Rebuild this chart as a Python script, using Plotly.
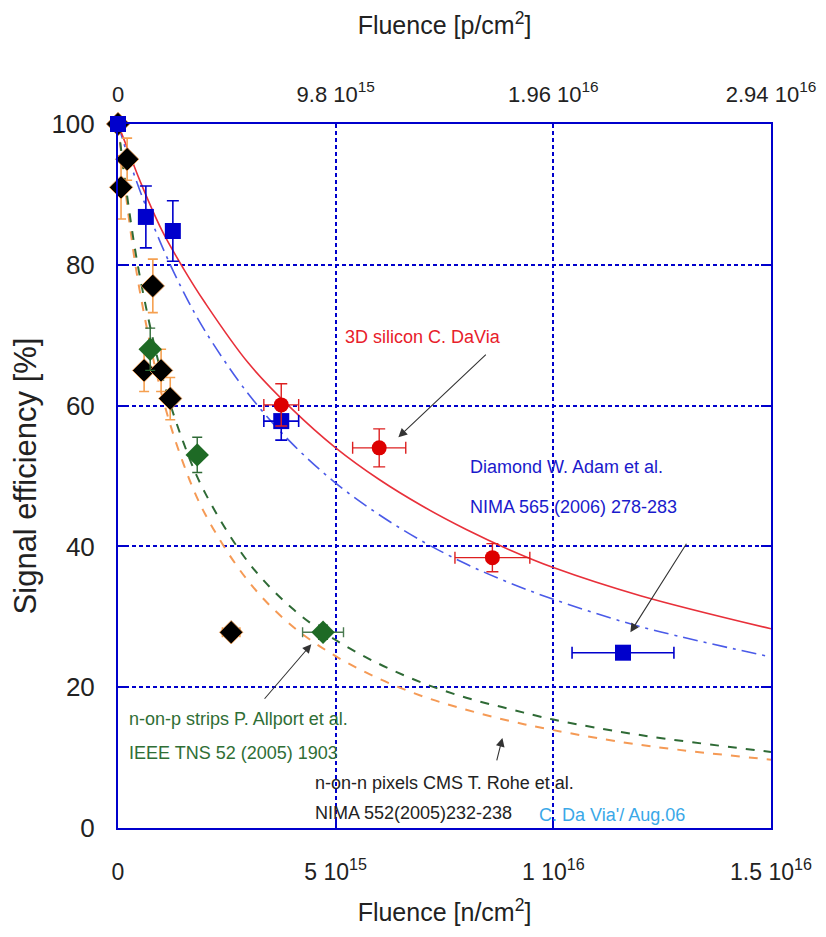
import plotly.graph_objects as go

# ---------------- data (fluence in units of 1e15 n/cm^2) ----------------
# black diamonds (n-on-n pixels, orange error bars)
blk_x = [0.0, 0.21, 0.07, 0.80, 0.60, 0.99, 1.20, 2.60]
blk_y = [100, 95, 91, 77, 65, 65, 61, 27.8]
blk_yerr = [0, 3, 4.5, 3.8, 3, 3, 3, 0.8]
blk_xerr = [0, 0, 0, 0, 0, 0, 0, 0.2]

# green diamonds (n-on-p strips)
grn_x = [0.74, 1.82, 4.71]
grn_y = [68, 53, 27.8]
grn_yerr = [3, 2.5, 1]
grn_xerr = [0, 0, 0.47]

# blue squares (diamond)
blu_x = [0.0, 0.64, 1.26, 3.75, 11.6]
blu_y = [100, 86.8, 84.8, 57.8, 24.9]
blu_yerr = [0, 4.4, 4.3, 2.7, 0]
blu_xerr = [0, 0, 0, 0.4, 1.17]

# red circles (3D silicon)
red_x = [3.75, 6.0, 8.6]
red_y = [60.1, 54.0, 38.4]
red_yerr = [3, 2.7, 2]
red_xerr = [0.4, 0.61, 0.86]

# curves
crv_x = [0, 0.25, 0.5, 1, 1.5, 2, 3, 4, 5, 6, 7, 8, 9, 10, 12, 15]
red_curve = [100, 96, 92, 85, 79.5, 74.6, 66, 59.5, 54, 49.5, 45.7, 42.4, 39.5, 37, 33, 28.3]
blue_curve = [100, 95, 90.6, 82.8, 76.2, 70.6, 61.6, 54.6, 49, 44.5, 40.7, 37.5, 34.8, 32.5, 28.6, 24.3]
green_curve = [100, 88, 78.4, 64.5, 54.8, 47.6, 37.7, 31.2, 26.7, 23.3, 20.6, 18.5, 16.9, 15.4, 13.2, 10.8]
orange_curve = [100, 86.6, 76.3, 61.7, 51.8, 44.6, 35, 28.7, 24.4, 21.2, 18.7, 16.8, 15.2, 13.9, 11.8, 9.7]

# tick labels
bottom_tickvals = [0, 5, 10, 15]
bottom_ticktext = ["0", "5 10<sup>15</sup>", "1 10<sup>16</sup>", "1.5 10<sup>16</sup>"]
top_tickvals = [0, 9.8, 19.6, 29.4]
top_ticktext = ["0", "9.8 10<sup>15</sup>", "1.96 10<sup>16</sup>", "2.94 10<sup>16</sup>"]
y_tickvals = [0, 20, 40, 60, 80, 100]

FONT = "Liberation Sans, Arial, sans-serif"
FRAME = "#0000cc"
GRIDDASH = "4px,3px"

fig = go.Figure()

# curves
fig.add_trace(go.Scatter(x=crv_x, y=orange_curve, mode="lines", line=dict(color="#f59a55", width=2, dash="dash", shape="spline"), showlegend=False))
fig.add_trace(go.Scatter(x=crv_x, y=green_curve, mode="lines", line=dict(color="#2e6a35", width=2, dash="dash", shape="spline"), showlegend=False))
fig.add_trace(go.Scatter(x=crv_x, y=blue_curve, mode="lines", line=dict(color="#4a5ae8", width=1.6, dash="longdashdot", shape="spline"), showlegend=False))
fig.add_trace(go.Scatter(x=crv_x, y=red_curve, mode="lines", line=dict(color="#e8303a", width=1.6, shape="spline"), showlegend=False))

# markers
fig.add_trace(go.Scatter(
    x=blk_x, y=blk_y, mode="markers", cliponaxis=False, showlegend=False,
    marker=dict(symbol="diamond", size=18, color="black", line=dict(color="#f5a050", width=0.8)),
    error_y=dict(type="data", array=blk_yerr, color="#f5a050", thickness=1.6, width=5),
    error_x=dict(type="data", array=blk_xerr, color="#f5a050", thickness=1.6, width=5)))
fig.add_trace(go.Scatter(
    x=grn_x, y=grn_y, mode="markers", cliponaxis=False, showlegend=False,
    marker=dict(symbol="diamond", size=18, color="#1e6a25"),
    error_y=dict(type="data", array=grn_yerr, color="#2e6a35", thickness=1.4, width=5),
    error_x=dict(type="data", array=grn_xerr, color="#4a7a50", thickness=1.4, width=5)))
fig.add_trace(go.Scatter(
    x=blu_x, y=blu_y, mode="markers", cliponaxis=False, showlegend=False,
    marker=dict(symbol="square", size=16, color="#0000cc"),
    error_y=dict(type="data", array=blu_yerr, color="#0000cc", thickness=1.6, width=6),
    error_x=dict(type="data", array=blu_xerr, color="#0000cc", thickness=1.6, width=6)))
fig.add_trace(go.Scatter(
    x=red_x, y=red_y, mode="markers", cliponaxis=False, showlegend=False,
    marker=dict(symbol="circle", size=15, color="#dd0000"),
    error_y=dict(type="data", array=red_yerr, color="#dd2020", thickness=1.4, width=6),
    error_x=dict(type="data", array=red_xerr, color="#dd2020", thickness=1.4, width=6)))

# dummy trace to activate the top axis
fig.add_trace(go.Scatter(x=[0, 29.4], y=[None, None], xaxis="x2", mode="lines", showlegend=False, hoverinfo="skip"))

# the page body adds an 8px margin, so the figure is 16px smaller than the window
fig.update_layout(
    width=810, height=921,
    margin=dict(l=110, r=47, t=116, b=101),
    plot_bgcolor="white", paper_bgcolor="white",
    font=dict(family=FONT, color="#222"),
    xaxis=dict(
        range=[0, 15], tickvals=bottom_tickvals, ticktext=bottom_ticktext,
        tickfont=dict(family=FONT, size=23, color="#222"), automargin=False,
        ticks="inside", ticklen=10, tickcolor=FRAME, tickwidth=2,
        showline=True, linecolor=FRAME, linewidth=2, mirror=True,
        showgrid=True, gridcolor=FRAME, griddash=GRIDDASH, gridwidth=1.5,
        zeroline=False, ticklabelstandoff=22, ticklabeloverflow="allow",
        title=dict(text="Fluence [n/cm<sup>2</sup>]", font=dict(family=FONT, size=25, color="#222"), standoff=20),
    ),
    xaxis2=dict(
        range=[0, 29.4], overlaying="x", side="top", tickvals=top_tickvals, ticktext=top_ticktext,
        tickfont=dict(family=FONT, size=22, color="#222"), automargin=False,
        ticks="", showline=False, showgrid=False, zeroline=False,
        ticklabelstandoff=17, ticklabeloverflow="allow",
        title=dict(text="Fluence [p/cm<sup>2</sup>]", font=dict(family=FONT, size=25, color="#222"), standoff=36),
    ),
    yaxis=dict(
        range=[0, 100], tickvals=y_tickvals,
        tickfont=dict(family=FONT, size=26, color="#222"), automargin=False,
        ticks="inside", ticklen=10, tickcolor=FRAME, tickwidth=2,
        showline=True, linecolor=FRAME, linewidth=2, mirror="ticks",
        showgrid=True, gridcolor=FRAME, griddash=GRIDDASH, gridwidth=1.5,
        zeroline=False, ticklabelstandoff=16,
        title=dict(text="Signal efficiency [%]", font=dict(family=FONT, size=31, color="#222"), standoff=14),
    ),
)

# text labels
labels = [
    ("3D silicon C. DaVia", 5.17, 69.7, "#e8202a"),
    ("Diamond W. Adam et al.", 8.05, 51.3, "#1a1acc"),
    ("NIMA 565 (2006) 278-283", 8.05, 45.6, "#1a1acc"),
    ("n-on-p strips P. Allport et al.", 0.21, 15.5, "#2f6e35"),
    ("IEEE TNS 52 (2005) 1903", 0.21, 10.65, "#2f6e35"),
    ("n-on-n pixels CMS T. Rohe et al.", 4.48, 6.4, "#222222"),
    ("NIMA 552(2005)232-238", 4.48, 2.1, "#222222"),
    ("C. Da Via'/ Aug.06", 9.63, 1.85, "#3aa8e8"),
]
for txt, x, y, c in labels:
    fig.add_annotation(x=x, y=y, xref="x", yref="y", text=txt, showarrow=False,
                       xanchor="left", yanchor="middle",
                       font=dict(family=FONT, size=18, color=c))

# arrows (head in data coords, tail offset in pixels)
arrows = [
    (6.44, 55.5, 89, -84),
    (11.77, 27.8, 57, -90),
    (4.44, 26.1, -48, 56),
    (8.83, 12.8, -6, 24),
]
for x, y, ax, ay in arrows:
    fig.add_annotation(x=x, y=y, xref="x", yref="y", ax=ax, ay=ay, text="",
                       showarrow=True, arrowhead=2, arrowsize=1.6, arrowwidth=1.1,
                       arrowcolor="#333333")

fig.write_html("out.html")
